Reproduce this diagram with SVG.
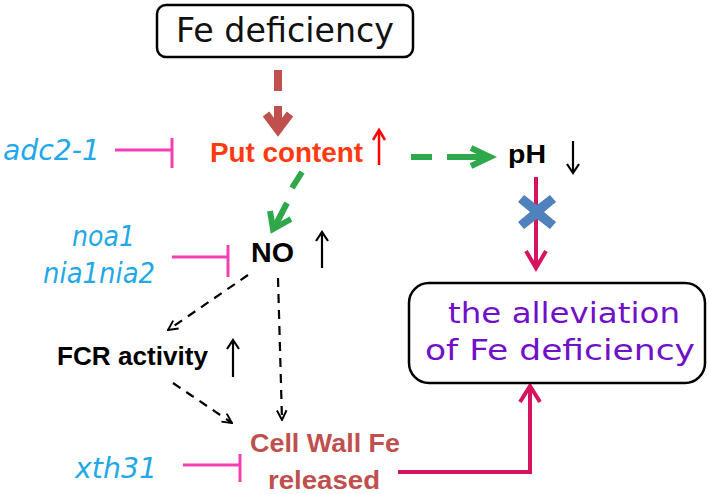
<svg xmlns="http://www.w3.org/2000/svg" width="709" height="494" viewBox="0 0 709 494">
<defs>
<style>
.comic{font-family:"DejaVu Sans","Noto Sans",sans-serif}
.bold{font-family:"Liberation Sans",Arial,sans-serif;font-weight:bold}
.mut{font-family:"DejaVu Sans","Noto Sans",sans-serif;font-style:italic;fill:#22A8E8;font-size:28px}
.inh{stroke:#F43FB4;stroke-width:3;fill:none}
.blk{stroke:#000;stroke-width:2.2;fill:none}
.dash{stroke:#000;stroke-width:2.2;stroke-dasharray:9 7;fill:none}
.grn{stroke:#2EA84A;stroke-width:6;fill:none}
.crim{stroke:#D6135F;stroke-width:4;fill:none}
</style>
<marker id="ad" viewBox="0 0 10 10" refX="9" refY="5" markerWidth="12" markerHeight="12" orient="auto" markerUnits="userSpaceOnUse"><path d="M1,1 L9,5 L1,9" fill="none" stroke="#000" stroke-width="1.6"/></marker>
</defs>

<g id="connectors">
  <!-- Fe deficiency to Put content -->
  <line x1="278" y1="70" x2="278" y2="91" stroke="#C0504D" stroke-width="8"/>
  <line x1="278" y1="106" x2="278" y2="128" stroke="#C0504D" stroke-width="8"/>
  <path d="M266,114 L278,130 L290,114" fill="none" stroke="#C0504D" stroke-width="8"/>
  <!-- adc2-1 inhibition -->
  <line class="inh" x1="115" y1="150" x2="172" y2="150"/>
  <line class="inh" x1="172" y1="138" x2="172" y2="168"/>
  <!-- Put content to pH -->
  <line class="grn" x1="411" y1="157" x2="432" y2="157"/>
  <line class="grn" x1="447" y1="157" x2="488" y2="157"/>
  <path class="grn" d="M471,148 L490,157 L471,166"/>
  <!-- Put content to NO -->
  <line class="grn" x1="302" y1="172" x2="292" y2="188"/>
  <line class="grn" x1="287" y1="203" x2="274" y2="228"/>
  <path class="grn" d="M270,211 L273,229 L291,219"/>
  <!-- pH to alleviation -->
  <line class="crim" x1="536" y1="177" x2="536" y2="268"/>
  <path d="M526,251 L536,268 L546,251" fill="none" stroke="#D6135F" stroke-width="4"/>
  <path d="M537,212 m-19,-10 l6,-7 l13,10 l13,-10 l6,7 l-12,10 l12,10 l-6,7 l-13,-10 l-13,10 l-6,-7 l12,-10 z" fill="#4F81BD"/>
  <!-- noa1 inhibition -->
  <line class="inh" x1="172" y1="257" x2="228" y2="257"/>
  <line class="inh" x1="228" y1="245" x2="228" y2="277"/>
  <!-- NO to FCR -->
  <line class="dash" x1="248" y1="275" x2="168" y2="330" marker-end="url(#ad)"/>
  <!-- NO to Cell wall -->
  <line class="dash" x1="278" y1="278" x2="282" y2="420" marker-end="url(#ad)"/>
  <!-- FCR to Cell wall -->
  <line class="dash" x1="173" y1="383" x2="232" y2="423" marker-end="url(#ad)"/>
  <!-- xth31 inhibition -->
  <line class="inh" x1="183" y1="465" x2="240" y2="465"/>
  <line class="inh" x1="240" y1="454" x2="240" y2="482"/>
  <!-- Cell wall to alleviation -->
  <path class="crim" d="M398,472 L530,472 L530,388" stroke-width="5"/>
  <path d="M520,402 L530,386 L540,402" fill="none" stroke="#D6135F" stroke-width="4"/>
</g>

<g id="fe-deficiency">
  <rect x="157" y="5" width="256" height="52" rx="9" fill="#fff" stroke="#000" stroke-width="2.5"/>
  <text class="comic" x="176" y="42" font-size="33" textLength="218" lengthAdjust="spacingAndGlyphs" fill="#111">Fe deficiency</text>
</g>

<g id="put-content">
  <text class="bold" x="210" y="162" font-size="27" textLength="153" lengthAdjust="spacingAndGlyphs" fill="#FF3A10">Put content</text>
  <line x1="379" y1="165" x2="379" y2="132" stroke="#FF0000" stroke-width="2.5"/>
  <path d="M373,140 L379,130 L385,140" fill="none" stroke="#FF0000" stroke-width="2.5"/>
</g>

<g id="adc2-1">
  <text class="mut" x="3" y="160" textLength="97" lengthAdjust="spacingAndGlyphs">adc2-1</text>
</g>

<g id="ph">
  <text class="bold" x="508" y="163" font-size="26" textLength="38" lengthAdjust="spacingAndGlyphs" fill="#000">pH</text>
  <line class="blk" x1="573" y1="141" x2="573" y2="172"/>
  <path d="M567,164 L573,173 L579,164" fill="none" stroke="#000" stroke-width="2.2"/>
</g>

<g id="no">
  <text class="bold" x="251" y="262" font-size="28" textLength="43" lengthAdjust="spacingAndGlyphs" fill="#000">NO</text>
  <line class="blk" x1="322" y1="268" x2="322" y2="234"/>
  <path d="M316,241 L322,232 L328,241" fill="none" stroke="#000" stroke-width="2.2"/>
</g>

<g id="noa1">
  <text class="mut" x="72" y="246" textLength="63" lengthAdjust="spacingAndGlyphs">noa1</text>
  <text class="mut" x="43" y="283" textLength="112" lengthAdjust="spacingAndGlyphs">nia1nia2</text>
</g>

<g id="fcr">
  <text class="bold" x="57" y="365" font-size="25" textLength="151" lengthAdjust="spacingAndGlyphs" fill="#000">FCR activity</text>
  <line class="blk" x1="233" y1="377" x2="233" y2="342"/>
  <path d="M227,349 L233,340 L239,349" fill="none" stroke="#000" stroke-width="2.2"/>
</g>

<g id="cell-wall">
  <text class="bold" x="250" y="452" font-size="25" textLength="150" lengthAdjust="spacingAndGlyphs" fill="#C0504D">Cell Wall Fe</text>
  <text class="bold" x="268" y="489" font-size="25" textLength="112" lengthAdjust="spacingAndGlyphs" fill="#C0504D">released</text>
</g>

<g id="xth31">
  <text class="mut" x="75" y="478" textLength="82" lengthAdjust="spacingAndGlyphs">xth31</text>
</g>

<g id="alleviation">
  <rect x="409" y="283" width="296" height="100" rx="20" fill="#fff" stroke="#000" stroke-width="2.5"/>
  <text class="comic" x="448" y="323" font-size="29" textLength="232" lengthAdjust="spacingAndGlyphs" fill="#7010C8">the alleviation</text>
  <text class="comic" x="425" y="360" font-size="29" textLength="270" lengthAdjust="spacingAndGlyphs" fill="#7010C8">of Fe deficiency</text>
</g>
</svg>
